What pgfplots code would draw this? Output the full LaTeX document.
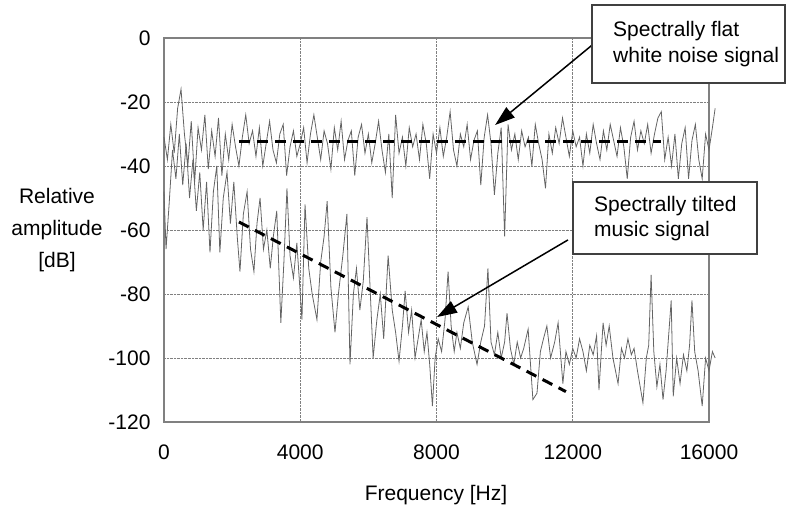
\documentclass[border=0pt]{standalone}
\usepackage{fontspec}
\setmainfont{Liberation Sans}
\usepackage{pgfplots}
\pgfplotsset{compat=1.18}
\usetikzlibrary{arrows.meta}
\newcommand\F{\fontsize{21bp}{25bp}\selectfont}
\definecolor{sig}{RGB}{100,100,100}
\definecolor{frame}{RGB}{128,128,128}
\begin{document}
\begin{tikzpicture}
\path[use as bounding box] (-164bp,-86bp) rectangle (634bp,422bp);
\begin{axis}[
  scale only axis, width=545bp, height=384bp,
  at={(0,0)}, anchor=south west,
  xmin=0, xmax=16000, ymin=-120, ymax=0,
  xtick={0,4000,8000,12000,16000},
  ytick={-120,-100,-80,-60,-40,-20,0},
  scaled ticks=false,
  /pgf/number format/1000 sep={},
  /pgf/number format/assume math mode=true,
  ticklabel style={font=\F},
  xticklabel style={yshift=-19bp},
  yticklabel style={xshift=-10bp},
  major tick length=0pt,
  grid=major,
  major grid style={densely dotted, frame, line width=0.7bp},
  axis line style={frame, line width=1.3bp},
  clip=false,
]
% white noise (spectrally flat)
\addplot[sig, line width=0.8bp] coordinates {
(0,-31) (100,-38) (200,-27) (300,-36) (400,-22) (500,-16) (600,-30) (700,-40) (800,-26) (900,-45)
(1000,-28) (1100,-35) (1200,-24) (1300,-41) (1400,-29) (1500,-37) (1600,-25) (1700,-43) (1800,-30) (1900,-38)
(2000,-27) (2100,-34) (2200,-40) (2300,-31) (2400,-24) (2500,-33) (2600,-29) (2700,-37) (2800,-28) (2900,-40)
(3000,-33) (3100,-26) (3200,-35) (3300,-39) (3400,-30) (3500,-27) (3600,-43) (3700,-34) (3800,-29) (3900,-37)
(4000,-33) (4100,-28) (4200,-39) (4300,-30) (4400,-24) (4500,-31) (4600,-38) (4700,-29) (4800,-33) (4900,-41)
(5000,-28) (5100,-35) (5200,-26) (5300,-38) (5400,-32) (5500,-29) (5600,-43) (5700,-31) (5800,-27) (5900,-36)
(6000,-30) (6100,-39) (6200,-33) (6300,-26) (6400,-35) (6500,-42) (6600,-30) (6700,-50) (6800,-24) (6900,-36)
(7000,-31) (7100,-40) (7200,-28) (7300,-34) (7400,-30) (7500,-38) (7600,-27) (7700,-33) (7800,-44) (7900,-30)
(8000,-36) (8100,-28) (8200,-37) (8300,-31) (8400,-23) (8500,-35) (8600,-40) (8700,-30) (8800,-34) (8900,-27)
(9000,-38) (9100,-32) (9200,-29) (9300,-46) (9400,-31) (9500,-24) (9600,-33) (9700,-49) (9800,-36) (9900,-28)
(10000,-62) (10100,-27) (10200,-35) (10300,-30) (10400,-38) (10500,-29) (10600,-34) (10700,-31) (10800,-40) (10900,-27)
(11000,-33) (11100,-38) (11200,-47) (11300,-30) (11400,-36) (11500,-28) (11600,-33) (11700,-25) (11800,-31) (11900,-37)
(12000,-29) (12100,-34) (12200,-31) (12300,-40) (12400,-30) (12500,-36) (12600,-27) (12700,-33) (12800,-38) (12900,-29)
(13000,-35) (13100,-27) (13200,-32) (13300,-37) (13400,-28) (13500,-34) (13600,-44) (13700,-31) (13800,-26) (13900,-35)
(14000,-29) (14100,-33) (14200,-27) (14300,-36) (14400,-30) (14500,-25) (14600,-23) (14700,-38) (14800,-31) (14900,-40)
(15000,-30) (15100,-44) (15200,-33) (15300,-28) (15400,-44) (15500,-32) (15600,-27) (15700,-38) (15800,-44) (15900,-30)
(16000,-35) (16100,-28) (16180,-22)
};
% music (spectrally tilted)
\addplot[sig, line width=0.8bp] coordinates {
(0,-48) (60,-66) (150,-52) (250,-35) (350,-44) (450,-30) (550,-46) (650,-33) (750,-50) (850,-38)
(950,-54) (1050,-42) (1150,-60) (1250,-45) (1350,-67) (1450,-48) (1550,-40) (1640,-67) (1740,-50) (1850,-42)
(1950,-58) (2050,-45) (2150,-62) (2230,-73) (2330,-55) (2440,-48) (2540,-66) (2640,-73) (2730,-58) (2820,-50)
(2920,-66) (3020,-60) (3120,-72) (3210,-62) (3310,-54) (3430,-89) (3520,-70) (3610,-47) (3700,-68) (3800,-75)
(3900,-64) (4050,-88) (4140,-52) (4250,-72) (4350,-80) (4490,-88) (4600,-70) (4700,-62) (4790,-51) (4900,-78)
(5020,-92) (5120,-80) (5250,-68) (5370,-55) (5460,-102) (5560,-80) (5650,-72) (5750,-85) (5850,-76) (5960,-56)
(6050,-78) (6140,-100) (6250,-88) (6350,-80) (6450,-94) (6580,-68) (6700,-85) (6800,-92) (6900,-101) (7000,-90)
(7080,-79) (7180,-92) (7270,-85) (7370,-100) (7460,-94) (7550,-88) (7640,-98) (7720,-92) (7800,-102) (7880,-115)
(7960,-100) (8050,-94) (8150,-98) (8250,-88) (8340,-73) (8430,-90) (8520,-98) (8600,-92) (8700,-97) (8800,-89)
(8930,-84) (9050,-95) (9190,-102) (9300,-95) (9410,-90) (9510,-72) (9600,-95) (9700,-99) (9800,-92) (9900,-100)
(10000,-95) (10070,-86) (10170,-97) (10270,-102) (10370,-95) (10470,-100) (10560,-97) (10690,-91) (10830,-113) (10950,-111)
(11050,-98) (11140,-94) (11240,-90) (11350,-100) (11470,-95) (11570,-89) (11710,-108) (11800,-98) (11900,-102) (12000,-97)
(12100,-100) (12200,-94) (12300,-98) (12400,-104) (12500,-96) (12600,-99) (12700,-93) (12770,-110) (12890,-89) (12980,-96)
(13070,-90) (13180,-100) (13330,-108) (13430,-97) (13520,-100) (13620,-94) (13720,-99) (13800,-97) (13900,-104) (14060,-114)
(14160,-100) (14230,-96) (14300,-74) (14380,-98) (14470,-109) (14560,-102) (14650,-113) (14740,-104) (14890,-82) (14950,-112)
(15050,-100) (15150,-108) (15250,-99) (15350,-104) (15430,-96) (15500,-82) (15580,-98) (15680,-104) (15800,-115) (15900,-100)
(16000,-104) (16100,-98) (16180,-100)
};
% trend lines
\addplot[black, line width=3bp, dash pattern=on 11bp off 7bp] coordinates {(2200,-32.4) (14600,-32.4)};
\addplot[black, line width=3bp, dash pattern=on 11bp off 7bp] coordinates {(2200,-57.5) (11800,-110.5)};
% arrows
\addplot[black, line width=1.5bp, -{Triangle[length=20bp,width=13bp]}] coordinates {(12570,-2.2) (9720,-27.2)};
\addplot[black, line width=1.5bp, -{Triangle[length=20bp,width=13bp]}] coordinates {(11860,-63.1) (8015,-87.2)};
\end{axis}
% annotation boxes
\draw[black!75, line width=1.3bp, fill=white] (428bp,417bp) rectangle (621bp,339bp);
\node[anchor=base west, inner sep=0pt, font=\F] at (449bp,385bp) {Spectrally flat};
\node[anchor=base west, inner sep=0pt, font=\F] at (449bp,359bp) {white noise signal};
\draw[black!75, line width=1.3bp, fill=white] (409bp,240bp) rectangle (593bp,168bp);
\node[anchor=base west, inner sep=0pt, font=\F] at (430bp,210bp) {Spectrally tilted};
\node[anchor=base west, inner sep=0pt, font=\F] at (430bp,185bp) {music signal};
% axis titles
\node[align=center, font=\F, inner sep=0pt] at (-107bp,192bp) {Relative\\[7bp]amplitude\\[7bp][dB]};
\node[font=\F, inner sep=0pt] at (272bp,-73bp) {Frequency [Hz]};
\end{tikzpicture}
\end{document}
